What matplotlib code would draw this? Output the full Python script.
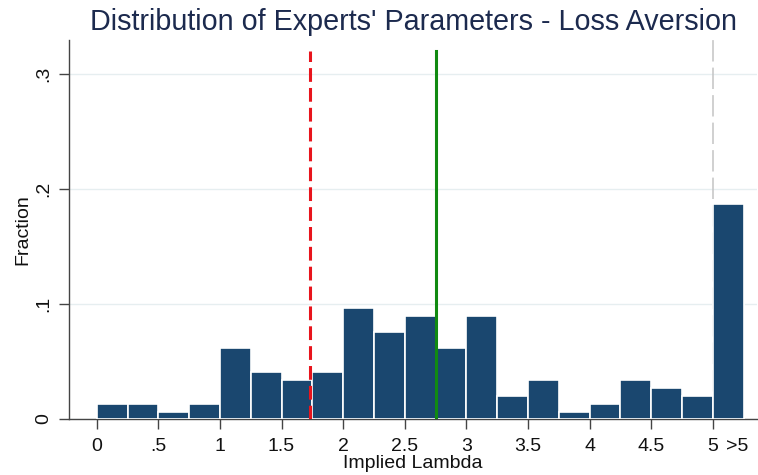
import matplotlib
matplotlib.use("Agg")
import matplotlib.pyplot as plt
import matplotlib.transforms as mtransforms

plt.rcParams['font.family'] = ['Liberation Sans', 'DejaVu Sans']

# histogram of implied lambda, bins of width 0.25 from 0 to 5, then one ">5" bin
bin_left = [0, 0.25, 0.5, 0.75, 1, 1.25, 1.5, 1.75, 2, 2.25, 2.5, 2.75,
            3, 3.25, 3.5, 3.75, 4, 4.25, 4.5, 4.75, 5]
fractions = [0.0128, 0.0128, 0.0060, 0.0128, 0.0619, 0.0407, 0.0340, 0.0407,
             0.0965, 0.0758, 0.0895, 0.0619, 0.0895, 0.0198, 0.0340, 0.0061,
             0.0128, 0.0340, 0.0270, 0.0198, 0.1875]
bin_width = 0.25

tick_pos = [0, 0.5, 1, 1.5, 2, 2.5, 3, 3.5, 4, 4.5, 5]
tick_lab = ['0', '.5', '1', '1.5', '2', '2.5', '3', '3.5', '4', '4.5', '5']
ytick_pos = [0, 0.1, 0.2, 0.3]
ytick_lab = ['0', '.1', '.2', '.3']

line_median = 1.73
line_mean = 2.75
line_cap = 5.0
line_top = 0.32

bar_color = '#1a476f'
title_color = '#1c2a4e'
text_color = '#111111'
tick_len = 7
xtick_pad = 7

fig = plt.figure(figsize=(7.58, 4.75), dpi=100)
ax = fig.add_axes([0.091, 0.118, 0.908, 0.798])

ax.bar(bin_left, fractions, width=bin_width, align='edge', color=bar_color,
       edgecolor='white', linewidth=1.2, zorder=3)

ax.axvline(line_cap, color='#c4c4c4', linewidth=1.1, dashes=(14, 4), zorder=2)
ax.plot([line_median, line_median], [0, line_top], color='#e8141c',
        linewidth=2.2, dashes=(4.5, 2), zorder=4)
ax.plot([line_mean, line_mean], [0, line_top], color='#118a11',
        linewidth=2.2, zorder=4)

ax.set_xlim(-0.225, 5.36)
ax.set_ylim(0, 0.33)

ax.set_xticks(tick_pos)
ax.set_xticklabels(tick_lab)
ax.set_yticks(ytick_pos)
ax.set_yticklabels(ytick_lab, rotation=90, va='center')

# label for the open-ended top bin, no tick mark of its own
trans = mtransforms.blended_transform_factory(ax.transData, ax.transAxes)
ax.annotate('>5', xy=(5.2, 0), xycoords=trans,
            xytext=(0, -(tick_len + xtick_pad)), textcoords='offset points',
            ha='center', va='top', fontsize=14, color=text_color)

ax.yaxis.grid(True, color='#e6eef0', linewidth=1.0, zorder=0)
ax.set_axisbelow(True)

for side in ['top', 'right']:
    ax.spines[side].set_visible(False)
for side in ['left', 'bottom']:
    ax.spines[side].set_color('#444444')
    ax.spines[side].set_linewidth(1.0)

ax.tick_params(axis='both', length=tick_len, width=1.0, color='#444444',
               labelsize=14, labelcolor=text_color)
ax.tick_params(axis='x', pad=xtick_pad)
ax.tick_params(axis='y', pad=5)

ax.set_xlabel('Implied Lambda', fontsize=14, color=text_color, labelpad=0)
ax.set_ylabel('Fraction', fontsize=14, color=text_color, labelpad=3)
ax.set_title("Distribution of Experts' Parameters - Loss Aversion",
             fontsize=20.7, color=title_color, pad=7)

fig.savefig('out.png', dpi=100)
